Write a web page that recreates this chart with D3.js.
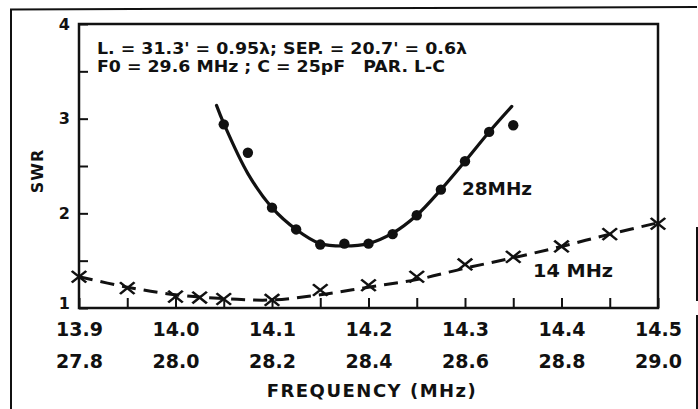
<!DOCTYPE html>
<html>
<head>
<meta charset="utf-8">
<script src="https://cdn.jsdelivr.net/npm/d3@7"></script>
<style>
  html, body { margin: 0; padding: 0; background: #fff; }
  svg { display: block; }
  text { font-family: "DejaVu Sans", sans-serif; font-weight: bold; fill: #111; }
</style>
</head>
<body>
<svg id="chart" width="698" height="409"></svg>
<script>
// ---- data ----
const swrTickValues = [1, 1.5, 2, 2.5, 3, 3.5, 4];
const swrTickLabels = ["1", "", "2", "", "3", "", "4"];
const band14TickValues = [13.9, 13.95, 14.0, 14.05, 14.1, 14.15, 14.2, 14.25, 14.3, 14.35, 14.4, 14.45, 14.5];
const band14Labels = ["13.9", "14.0", "14.1", "14.2", "14.3", "14.4", "14.5"];
const band28Labels = ["27.8", "28.0", "28.2", "28.4", "28.6", "28.8", "29.0"];

// 14 MHz band measurements (crosses)
const freq14 = [13.90, 13.95, 14.00, 14.025, 14.05, 14.10, 14.15, 14.20, 14.25, 14.30, 14.35, 14.40, 14.45, 14.50];
const swr14  = [1.33, 1.21, 1.12, 1.11, 1.095, 1.085, 1.19, 1.24, 1.33, 1.46, 1.54, 1.65, 1.78, 1.89];
// 14 MHz hand-drawn dashed curve
const fitFreq14 = [13.90, 13.95, 14.00, 14.05, 14.10, 14.15, 14.20, 14.25, 14.30, 14.35, 14.40, 14.45, 14.50];
const fitSwr14  = [1.33, 1.22, 1.14, 1.10, 1.085, 1.14, 1.22, 1.30, 1.42, 1.53, 1.65, 1.78, 1.90];

// 28 MHz band measurements (dots)
const freq28 = [28.10, 28.15, 28.20, 28.25, 28.30, 28.35, 28.40, 28.45, 28.50, 28.55, 28.60, 28.65, 28.70];
const swr28  = [2.94, 2.64, 2.06, 1.83, 1.67, 1.68, 1.68, 1.78, 1.98, 2.25, 2.55, 2.86, 2.93];
// 28 MHz hand-drawn solid curve
const fitFreq28 = [28.085, 28.10, 28.15, 28.20, 28.25, 28.30, 28.35, 28.40, 28.45, 28.50, 28.55, 28.60, 28.65, 28.697];
const fitSwr28  = [3.14, 2.95, 2.42, 2.06, 1.83, 1.68, 1.655, 1.68, 1.79, 1.98, 2.25, 2.55, 2.86, 3.13];

const titleLines = ["L. = 31.3' = 0.95\u03bb; SEP. = 20.7' = 0.6\u03bb", "F0 = 29.6 MHz ; C = 25pF   PAR. L-C"];
const xTitle = "FREQUENCY (MHz)";
const yTitle = "SWR";

// ---- layout ----
const svg = d3.select("#chart");
const L = 79, R = 658, T = 24, B = 308;
const x14 = d3.scaleLinear().domain([13.9, 14.5]).range([L, R]);
const x28 = d3.scaleLinear().domain([27.8, 29.0]).range([L, R]);
const y = d3.scaleLinear().domain([1, 4]).range([B, T]);

// outer frame (scanned page border)
const frame = svg.append("g").attr("stroke", "#111").attr("stroke-width", 2).attr("fill", "none");
frame.append("path").attr("d", "M11,409 L11,9.5 L697,7");
frame.append("path").attr("d", "M697,227 L697,301 M697,315 L697,409");

// plot box
svg.append("rect").attr("x", L).attr("y", T).attr("width", R - L).attr("height", B - T)
  .attr("fill", "none").attr("stroke", "#111").attr("stroke-width", 2.5);

// x axis ticks (inward)
const xTicks = svg.append("g").attr("transform", `translate(0,${B})`)
  .call(d3.axisBottom(x14).tickValues(band14TickValues).tickSize(-10).tickFormat(""));
xTicks.select(".domain").remove();
xTicks.selectAll("line").attr("stroke", "#111").attr("stroke-width", 2);

// 14 MHz labels
const xl14 = svg.append("g").attr("transform", `translate(0,${B})`)
  .call(d3.axisBottom(x14).tickValues(band14Labels.map(Number)).tickSize(0).tickPadding(15)
    .tickFormat((d, i) => band14Labels[i]));
xl14.select(".domain").remove();
xl14.selectAll("text").attr("font-size", 19).attr("fill", "#111")
  .style("font-family", '"DejaVu Sans", sans-serif').style("font-weight", "bold");

// 28 MHz labels
const xl28 = svg.append("g").attr("transform", `translate(0,${B})`)
  .call(d3.axisBottom(x28).tickValues(band28Labels.map(Number)).tickSize(0).tickPadding(47)
    .tickFormat((d, i) => band28Labels[i]));
xl28.select(".domain").remove();
xl28.selectAll("text").attr("font-size", 19).attr("fill", "#111")
  .style("font-family", '"DejaVu Sans", sans-serif').style("font-weight", "bold");

// y axis
const yAx = svg.append("g").attr("transform", `translate(${L},0)`)
  .call(d3.axisLeft(y).tickValues(swrTickValues).tickSize(-9).tickPadding(7)
    .tickFormat((d, i) => swrTickLabels[i]));
yAx.select(".domain").remove();
yAx.selectAll("line").attr("stroke", "#111").attr("stroke-width", 2);
yAx.selectAll("text").attr("font-size", 16).attr("fill", "#111").attr("x", -9)
  .attr("dy", d => d === 1 ? "0.05em" : "0.32em")
  .style("font-family", '"DejaVu Sans", sans-serif').style("font-weight", "bold");

// axis titles
svg.append("text").attr("x", 372).attr("y", 397).attr("text-anchor", "middle")
  .attr("font-size", 18).attr("letter-spacing", 1.5).text(xTitle);
svg.append("text").attr("transform", "translate(43,171) rotate(-90)").attr("text-anchor", "middle")
  .attr("font-size", 16).attr("letter-spacing", 1).text(yTitle);

// annotation lines
svg.append("text").attr("x", 97).attr("y", 54).attr("font-size", 16.5)
  .attr("textLength", 370).attr("lengthAdjust", "spacingAndGlyphs").text(titleLines[0]);
svg.append("text").attr("x", 97).attr("y", 72).attr("font-size", 16.5).style("white-space", "pre")
  .attr("textLength", 348).attr("lengthAdjust", "spacingAndGlyphs").text(titleLines[1]);

// curve labels
svg.append("text").attr("x", 462).attr("y", 195).attr("font-size", 17)
  .attr("textLength", 70).attr("lengthAdjust", "spacingAndGlyphs").text("28MHz");
svg.append("text").attr("x", 533).attr("y", 277).attr("font-size", 17)
  .attr("textLength", 80).attr("lengthAdjust", "spacingAndGlyphs").text("14 MHz");

// 28 MHz solid curve
const fit28 = fitFreq28.map((f, i) => [f, fitSwr28[i]]);
svg.append("path").datum(fit28)
  .attr("d", d3.line().x(d => x28(d[0])).y(d => y(d[1])).curve(d3.curveCatmullRom.alpha(0.5)))
  .attr("fill", "none").attr("stroke", "#111").attr("stroke-width", 3.2).attr("stroke-linecap", "round");

// 28 MHz dots
svg.append("g").selectAll("circle").data(freq28.map((f, i) => [f, swr28[i]])).join("circle")
  .attr("cx", d => x28(d[0])).attr("cy", d => y(d[1])).attr("r", 5.2).attr("fill", "#111");

// 14 MHz dashed curve
const fit14 = fitFreq14.map((f, i) => [f, fitSwr14[i]]);
svg.append("path").datum(fit14)
  .attr("d", d3.line().x(d => x14(d[0])).y(d => y(d[1])).curve(d3.curveCatmullRom.alpha(0.5)))
  .attr("fill", "none").attr("stroke", "#111").attr("stroke-width", 3).attr("stroke-dasharray", "14,8");

// 14 MHz crosses
const crossSym = d3.symbol().type(d3.symbolTimes).size(90);
svg.append("g").selectAll("path").data(freq14.map((f, i) => [f, swr14[i]])).join("path")
  .attr("transform", d => `translate(${x14(d[0])},${y(d[1])}) scale(1.25,1)`)
  .attr("d", crossSym).attr("fill", "none").attr("stroke", "#111").attr("stroke-width", 2.2);
</script>
</body>
</html>
